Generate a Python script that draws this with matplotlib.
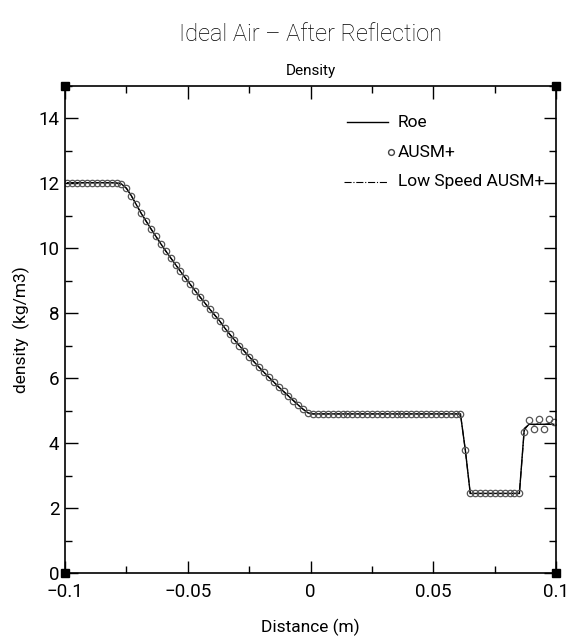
import numpy as np
import matplotlib

matplotlib.use("Agg")
import matplotlib.pyplot as plt
from matplotlib.ticker import MultipleLocator

plt.rcParams["font.family"] = ["Roboto", "DejaVu Sans"]

# cell centres of the 1D grid (100 cells on [-0.1, 0.1])
n_cells = 100
x = np.linspace(-0.099, 0.099, n_cells)

# density, shared by all schemes up to the right shock
density_common = [
    12.02, 12.02, 12.02, 12.02, 12.02, 12.02, 12.02, 12.02, 12.02, 12.02,
    12.01, 11.98, 11.85, 11.62, 11.35, 11.08, 10.84, 10.60, 10.37, 10.14,
    9.92, 9.71, 9.50, 9.29, 9.09, 8.89, 8.69, 8.50, 8.31, 8.12,
    7.94, 7.76, 7.55, 7.36, 7.18, 7.00, 6.83, 6.66, 6.50, 6.34,
    6.18, 6.03, 5.88, 5.73, 5.59, 5.45, 5.31, 5.17, 5.04, 4.93,
    4.90, 4.90, 4.90, 4.90, 4.90, 4.90, 4.90, 4.90, 4.90, 4.90,
    4.90, 4.90, 4.90, 4.90, 4.90, 4.90, 4.90, 4.90, 4.90, 4.90,
    4.90, 4.90, 4.90, 4.90, 4.90, 4.90, 4.90, 4.90, 4.90, 4.90,
    4.90, 3.78, 2.45, 2.45, 2.45, 2.45, 2.45, 2.45, 2.45, 2.45,
    2.45, 2.45, 2.45,
]
# last seven cells behind the reflected shock differ per scheme
tail_roe = [4.45, 4.58, 4.58, 4.58, 4.58, 4.58, 4.58]
tail_ausm = [4.35, 4.72, 4.42, 4.74, 4.42, 4.74, 4.65]
tail_lsausm = [4.40, 4.60, 4.56, 4.60, 4.57, 4.60, 4.59]

rho_roe = np.array(density_common + tail_roe)
rho_ausm = np.array(density_common + tail_ausm)
rho_lsausm = np.array(density_common + tail_lsausm)

fig = plt.figure(figsize=(5.67, 6.43), dpi=100)
ax = fig.add_axes([0.1146, 0.1089, 0.8664, 0.7574])

ax.plot(x, rho_roe, color="black", lw=1.0, solid_joinstyle="miter")
ax.plot(x, rho_lsausm, color="black", lw=0.8, ls="-.")
ax.plot(x, rho_ausm, ls="none", marker="o", ms=4.6, mfc="none",
        mec="#555555", mew=0.9)

ax.set_xlim(-0.1, 0.1)
ax.set_ylim(0, 15)
ax.xaxis.set_major_locator(MultipleLocator(0.05))
ax.xaxis.set_minor_locator(MultipleLocator(0.025))
ax.yaxis.set_major_locator(MultipleLocator(2))
ax.yaxis.set_minor_locator(MultipleLocator(1))
ax.set_xticks([-0.1, -0.05, 0, 0.05, 0.1])
ax.set_xticklabels(["\u22120.1", "\u22120.05", "0", "0.05", "0.1"])
ax.tick_params(which="both", direction="in", top=True, right=True,
               width=1.0, labelsize=13.5)
ax.tick_params(axis="x", pad=7)
ax.tick_params(axis="y", pad=4)
ax.tick_params(which="major", length=9)
ax.tick_params(which="minor", length=5)
for s in ax.spines.values():
    s.set_linewidth(1.2)

# black squares at the frame corners
for cx, cy in [(0, 0), (1, 0), (0, 1), (1, 1)]:
    ax.plot(cx, cy, marker="s", ms=6, color="black",
            transform=ax.transAxes, clip_on=False)

# legend drawn as in the original plot
lx0, lx1, tx = 0.574, 0.658, 0.677
ax.plot([lx0, lx1], [0.926, 0.926], color="black", lw=1.0, transform=ax.transAxes)
ax.text(tx, 0.926, "Roe", fontsize=12.5, va="center", transform=ax.transAxes)
ax.plot([lx1 + 0.006], [0.864], marker="o", ms=4.2, mfc="none", mec="#444444",
        transform=ax.transAxes)
ax.text(tx, 0.864, "AUSM+", fontsize=12.5, va="center", transform=ax.transAxes)
ax.plot([lx0 - 0.005, lx1], [0.803, 0.803], color="black", lw=0.8, ls="-.",
        transform=ax.transAxes)
ax.text(tx, 0.803, "Low Speed AUSM+", fontsize=12.5, va="center",
        transform=ax.transAxes)

ax.set_xlabel("Distance (m)", fontsize=12.5, labelpad=13)
ax.set_ylabel("density  (kg/m3)", fontsize=12.5, labelpad=6)
ax.set_title("Density", fontsize=11, pad=8)
fig.text(0.547, 0.946, "Ideal Air \u2013 After Reflection", fontsize=17,
         fontweight="light", ha="center", va="center")

fig.savefig("out.png", dpi=100)
